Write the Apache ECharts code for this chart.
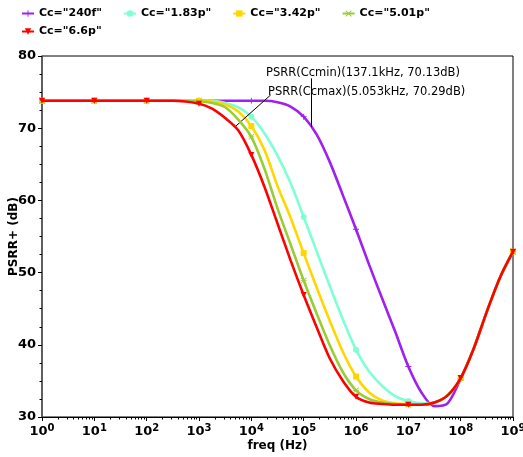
<!DOCTYPE html>
<html>
<head>
<meta charset="utf-8">
<script src="https://cdn.jsdelivr.net/npm/echarts@6/dist/echarts.min.js"></script>
<style>
  html, body { margin: 0; padding: 0; background: #fff; }
  #main { width: 523px; height: 457px; }
</style>
</head>
<body>
<div id="main"></div>
<script>
// frequency grid as decade exponents (freq = 10^e Hz)
const freqExp = [0, 1, 2, 2.5, 3, 3.25, 3.5, 3.75, 4, 4.25, 4.5, 4.75, 5, 5.25, 5.5, 5.75,
  6, 6.25, 6.5, 6.75, 7, 7.25, 7.5, 7.75, 8, 8.25, 8.5, 8.75, 9]

const cc240f = [73.8, 73.8, 73.8, 73.8, 73.8, 73.8, 73.8, 73.8, 73.8, 73.8, 73.6, 73.0, 71.6, 69.1, 65.3, 60.7,
  56.0, 51.1, 46.4, 41.8, 37.0, 33.4, 31.5, 31.9, 35.3, 39.5, 44.6, 49.3, 52.9]
const cc183p = [73.8, 73.8, 73.8, 73.8, 73.8, 73.8, 73.5, 72.9, 71.6, 69.3, 66.2, 62.4, 57.7, 52.9, 48.1, 43.5,
  39.3, 36.3, 34.3, 32.9, 32.2, 31.9, 32.0, 33.0, 35.4, 39.5, 44.6, 49.3, 52.9]
const cc342p = [73.8, 73.8, 73.8, 73.8, 73.8, 73.7, 73.3, 72.3, 70.3, 67.0, 62.0, 57.6, 52.7, 47.9, 43.3, 39.0,
  35.6, 33.4, 32.3, 31.9, 31.8, 31.7, 32.0, 33.0, 35.4, 39.5, 44.6, 49.3, 52.9]
const cc501p = [73.8, 73.8, 73.8, 73.8, 73.7, 73.5, 72.9, 71.2, 68.8, 64.4, 58.9, 53.9, 48.9, 44.3, 39.9, 36.2,
  33.7, 32.5, 32.0, 31.8, 31.7, 31.7, 32.0, 33.0, 35.4, 39.5, 44.6, 49.3, 52.9]
const cc66p = [73.8, 73.8, 73.8, 73.8, 73.4, 72.7, 71.4, 69.7, 66.3, 61.9, 56.8, 51.7, 46.9, 42.4, 38.1, 35.0,
  32.8, 32.0, 31.8, 31.7, 31.7, 31.7, 32.0, 33.0, 35.4, 39.5, 44.6, 49.3, 52.9]

const seriesNames = ['Cc="240f"', 'Cc="1.83p"', 'Cc="3.42p"', 'Cc="5.01p"', 'Cc="6.6p"']
const seriesColors = ['#a020f0', '#7fffd4', '#ffd700', '#9acd32', '#ff0000']

// annotated points
const ccMin = [137.1e3, 70.13]
const ccMax = [5.053e3, 70.29]
const ccMinLabelEnd = [137.1e3, 76.9]
const ccMaxLabelEnd = [23.4e3, 74.6]

const symPlus = 'path://M4.3,0H5.7V10H4.3ZM0,4.3H10V5.7H0Z'
const symStar = 'path://M0,1L1,0L10,9L9,10ZM9,0L10,1L1,10L0,9ZM0,4.4H10V5.6H0Z'
const symbols = [symPlus, 'circle', 'rect', symStar, 'triangle']

const toPairs = (vals) => freqExp.map((e, i) => [Math.pow(10, e), vals[i]])
const isDecade = (v) => Math.abs(Math.log10(v[0]) - Math.round(Math.log10(v[0]))) < 1e-9

const allVals = [cc240f, cc183p, cc342p, cc501p, cc66p]

const chart = echarts.init(document.getElementById('main'))

const series = allVals.map((vals, i) => ({
  name: seriesNames[i],
  type: 'line',
  smooth: 0.3,
  data: toPairs(vals),
  symbol: symbols[i],
  symbolRotate: i === 4 ? 180 : 0,
  symbolSize: (v) => (isDecade(v) ? 6 : 0),
  showAllSymbol: true,
  lineStyle: { width: 2.6, color: seriesColors[i] },
  itemStyle: { color: seriesColors[i] },
  z: 2 + i
}))

series[0].markLine = {
  silent: true,
  symbol: 'none',
  label: { show: false },
  lineStyle: { color: '#000', width: 1, type: 'solid' },
  data: [[{ coord: ccMin }, { coord: ccMinLabelEnd }]]
}
series[4].markLine = {
  silent: true,
  symbol: 'none',
  label: { show: false },
  lineStyle: { color: '#000', width: 1, type: 'solid' },
  data: [[{ coord: ccMax }, { coord: ccMaxLabelEnd }]]
}

const legendText = { fontFamily: 'DejaVu Sans', fontWeight: 'bold', fontSize: 11, color: '#000' }

chart.setOption({
  animation: false,
  backgroundColor: '#fff',
  textStyle: { fontFamily: 'DejaVu Sans' },
  legend: [
    {
      data: seriesNames.slice(0, 4),
      left: 16,
      top: 3,
      itemWidth: 12,
      itemHeight: 8,
      itemGap: 21,
      textStyle: legendText
    },
    {
      data: seriesNames.slice(4),
      left: 16,
      top: 21,
      itemWidth: 12,
      itemHeight: 8,
      textStyle: legendText
    }
  ],
  grid: {
    left: 42,
    right: 10,
    top: 56,
    bottom: 40,
    outerBoundsMode: 'none',
    show: true,
    borderColor: '#000',
    borderWidth: 1
  },
  xAxis: {
    type: 'log',
    logBase: 10,
    min: 1,
    max: 1e9,
    name: 'freq (Hz)',
    nameLocation: 'middle',
    nameGap: 23,
    nameMoveOverlap: false,
    nameTextStyle: { fontWeight: 'bold', fontSize: 12, color: '#000' },
    axisLine: { lineStyle: { color: '#000', width: 1 } },
    axisTick: { length: 4, lineStyle: { color: '#000' } },
    minorTick: { show: true, splitNumber: 9, length: 2.5, lineStyle: { color: '#000' } },
    splitLine: { show: false },
    axisLabel: {
      margin: 6,
      formatter: (v) => '{b|10}{s|' + Math.round(Math.log10(v)) + '}',
      rich: {
        b: { fontWeight: 'bold', fontSize: 13, color: '#000' },
        s: { fontWeight: 'bold', fontSize: 10, color: '#000', padding: [0, 0, 8, 0] }
      }
    }
  },
  yAxis: {
    type: 'value',
    min: 30,
    max: 80,
    interval: 10,
    name: 'PSRR+ (dB)',
    nameLocation: 'middle',
    nameGap: 22,
    nameMoveOverlap: false,
    nameTextStyle: { fontWeight: 'bold', fontSize: 12, color: '#000' },
    axisLine: { show: true, lineStyle: { color: '#555', width: 1.5 } },
    axisTick: { show: true, length: 4, lineStyle: { color: '#000' } },
    minorTick: { show: true, splitNumber: 4, length: 2.5, lineStyle: { color: '#000' } },
    splitLine: { show: false },
    axisLabel: { margin: 6, fontWeight: 'bold', fontSize: 13, color: '#000' }
  },
  graphic: [
    {
      type: 'text',
      left: 266,
      top: 67,
      style: { text: 'PSRR(Ccmin)(137.1kHz, 70.13dB)', font: '11.5px "DejaVu Sans"', fill: '#000' }
    },
    {
      type: 'text',
      left: 268,
      top: 86,
      style: { text: 'PSRR(Ccmax)(5.053kHz, 70.29dB)', font: '11.5px "DejaVu Sans"', fill: '#000' }
    }
  ],
  series: series
})
</script>
</body>
</html>
